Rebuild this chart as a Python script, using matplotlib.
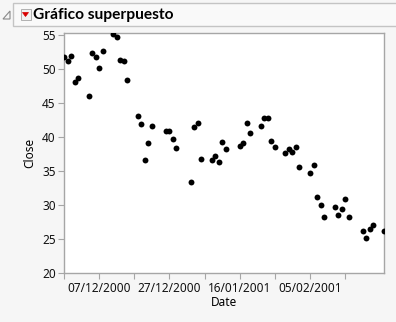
import matplotlib
matplotlib.use("Agg")
import matplotlib.pyplot as plt
import matplotlib.dates as mdates
from matplotlib.patches import Rectangle, Polygon
import numpy as np
import datetime as dt

plt.rcParams['font.family'] = ['Noto Sans', 'DejaVu Sans']

# trading days and closing prices
dates = ['2000-11-27', '2000-11-28', '2000-11-29', '2000-11-30', '2000-12-01',
         '2000-12-04', '2000-12-05', '2000-12-06', '2000-12-07', '2000-12-08',
         '2000-12-11', '2000-12-12', '2000-12-13', '2000-12-14', '2000-12-15',
         '2000-12-18', '2000-12-19', '2000-12-20', '2000-12-21', '2000-12-22',
         '2000-12-26', '2000-12-27', '2000-12-28', '2000-12-29',
         '2001-01-02', '2001-01-03', '2001-01-04', '2001-01-05',
         '2001-01-08', '2001-01-09', '2001-01-10', '2001-01-11', '2001-01-12',
         '2001-01-16', '2001-01-17', '2001-01-18', '2001-01-19',
         '2001-01-22', '2001-01-23', '2001-01-24', '2001-01-25', '2001-01-26',
         '2001-01-29', '2001-01-30', '2001-01-31', '2001-02-01', '2001-02-02',
         '2001-02-05', '2001-02-06', '2001-02-07', '2001-02-08', '2001-02-09',
         '2001-02-12', '2001-02-13', '2001-02-14', '2001-02-15', '2001-02-16',
         '2001-02-20', '2001-02-21', '2001-02-22', '2001-02-23', '2001-02-26']
close = [51.7, 51.2, 51.9, 48.1, 48.7,
         46.1, 52.4, 51.7, 50.2, 52.7,
         55.1, 54.65, 51.4, 51.2, 48.4,
         43.1, 42.0, 36.6, 39.1, 41.7,
         40.9, 40.9, 39.7, 38.4,
         33.45, 41.5, 42.1, 36.8,
         36.7, 37.3, 36.4, 39.3, 38.3,
         38.7, 39.2, 42.1, 40.6,
         41.7, 42.85, 42.8, 39.5, 38.5,
         37.6, 38.25, 37.8, 38.5, 35.65,
         34.7, 35.95, 31.2, 30.1, 28.3,
         29.7, 28.6, 29.5, 30.95, 28.3,
         26.2, 25.2, 26.5, 27.1, 26.2]
x_labels = ['07/12/2000', '27/12/2000', '16/01/2001', '05/02/2001']

x = [dt.datetime.strptime(d, '%Y-%m-%d') for d in dates]

fig = plt.figure(figsize=(3.96, 3.22), dpi=100)
fig.patch.set_facecolor('#f6f6f6')

# header bar
W, H = 396, 322
def fx(px): return px / W
def fy(py): return 1 - py / H
fig.patches.append(Rectangle((fx(13.5), fy(26)), fx(390), 23 / H, transform=fig.transFigure,
                             facecolor='#f9f9f9', edgecolor='#c4c4c4', lw=1))
fig.patches.append(Polygon([[fx(3), fy(19)], [fx(10), fy(19)], [fx(10), fy(11)]], closed=True,
                           transform=fig.transFigure, facecolor='none', edgecolor='#8a8a8a', lw=0.8))
fig.patches.append(Rectangle((fx(20.5), fy(20)), 10 / W, 11 / H, transform=fig.transFigure,
                             facecolor='#f2f2f2', edgecolor='#b0b0b0', lw=0.7))
fig.patches.append(Polygon([[fx(22.5), fy(12.5)], [fx(28.5), fy(12.5)], [fx(25.5), fy(16.5)]], closed=True,
                           transform=fig.transFigure, facecolor='#d80000', edgecolor='#d80000', lw=0.5))
fig.text(fx(33), fy(14.5), 'Gráfico superpuesto', fontsize=11.2, fontweight='bold',
         family=['Lato', 'DejaVu Sans'], va='center', ha='left', color='black')

ax = fig.add_axes([64 / W, 1 - 273.3 / H, (384.3 - 64) / W, (273.3 - 33.3) / H])
ax.set_facecolor('white')
ax.scatter(x, close, s=18, color='black', zorder=3, clip_on=True, linewidths=0)

start = dt.datetime(2000, 11, 27)
ax.set_xlim(mdates.date2num(start), mdates.date2num(start) + 91.14)
ax.set_ylim(20, 55.25)

major = [mdates.date2num(dt.datetime.strptime(s, '%d/%m/%Y')) for s in x_labels]
minor = [mdates.date2num(start) + d for d in range(0, 100, 20)]
ax.set_xticks(major)
ax.set_xticklabels(x_labels)
ax.set_xticks(minor, minor=True)
ax.set_yticks(np.arange(20, 56, 5))

for s in ax.spines.values():
    s.set_color('#a6a6a6')
    s.set_linewidth(1)
ax.tick_params(axis='both', which='both', direction='out', length=4, width=0.8,
               color='#a6a6a6', labelsize=8.5, labelcolor='#111111', pad=2)

ax.set_xlabel('Date', fontsize=8.5, labelpad=1)
ax.set_ylabel('Close', fontsize=8.5, labelpad=4)

fig.savefig('out.png', dpi=100, facecolor=fig.get_facecolor())
